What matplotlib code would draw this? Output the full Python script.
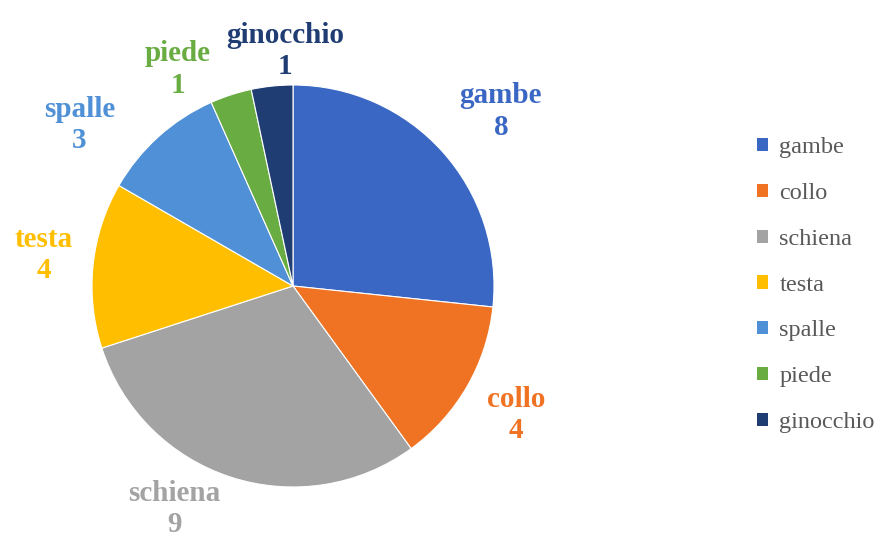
import numpy as np
import matplotlib
matplotlib.use("Agg")
import matplotlib.pyplot as plt
from matplotlib.patches import Patch

categories = ["gambe", "collo", "schiena", "testa", "spalle", "piede", "ginocchio"]
values = [8, 4, 9, 4, 3, 1, 1]
colors = ["#3A67C4", "#EF7323", "#A3A3A3", "#FFBF00", "#4F90D6", "#68AC42", "#1F3C73"]

# label placement (layout only): radial distance factor and angular shift in degrees
label_dist = [1.35, 1.28, 1.255, 1.25, 1.33, 1.22, 1.17]
label_shift = [-2, 0, -10, -1, 11, 10, -4]

W, H = 884, 537
fig = plt.figure(figsize=(W / 100, H / 100), dpi=100)
ax = fig.add_axes([0, 0, 1, 1])

cx, cy, r = 293, H - 286, 201
wedges, _ = ax.pie(values, colors=colors, startangle=90, counterclock=False,
                   center=(cx, cy), radius=r, frame=True,
                   wedgeprops=dict(edgecolor="white", linewidth=0.8))
ax.set_xlim(0, W)
ax.set_ylim(0, H)
ax.set_aspect("equal")
ax.axis("off")

for w, cat, v, col, d, s in zip(wedges, categories, values, colors, label_dist, label_shift):
    mid = np.deg2rad((w.theta1 + w.theta2) / 2 + s)
    x = cx + d * r * np.cos(mid)
    y = cy + d * r * np.sin(mid)
    ax.text(x, y, f"{cat}\n{v}", ha="center", va="center", color=col,
            fontsize=21, fontweight="bold", family="Liberation Serif",
            linespacing=1.2)

handles = [Patch(facecolor=c, edgecolor="none") for c in colors]
leg = fig.legend(handles, categories, loc="center left", bbox_to_anchor=(0.832, 0.469),
                 frameon=False, prop=dict(family="Liberation Serif", size=17.5),
                 handlelength=0.45, handleheight=0.45, handletextpad=0.45,
                 labelspacing=1.02, labelcolor="#595959")

fig.savefig("out.png", dpi=100)
